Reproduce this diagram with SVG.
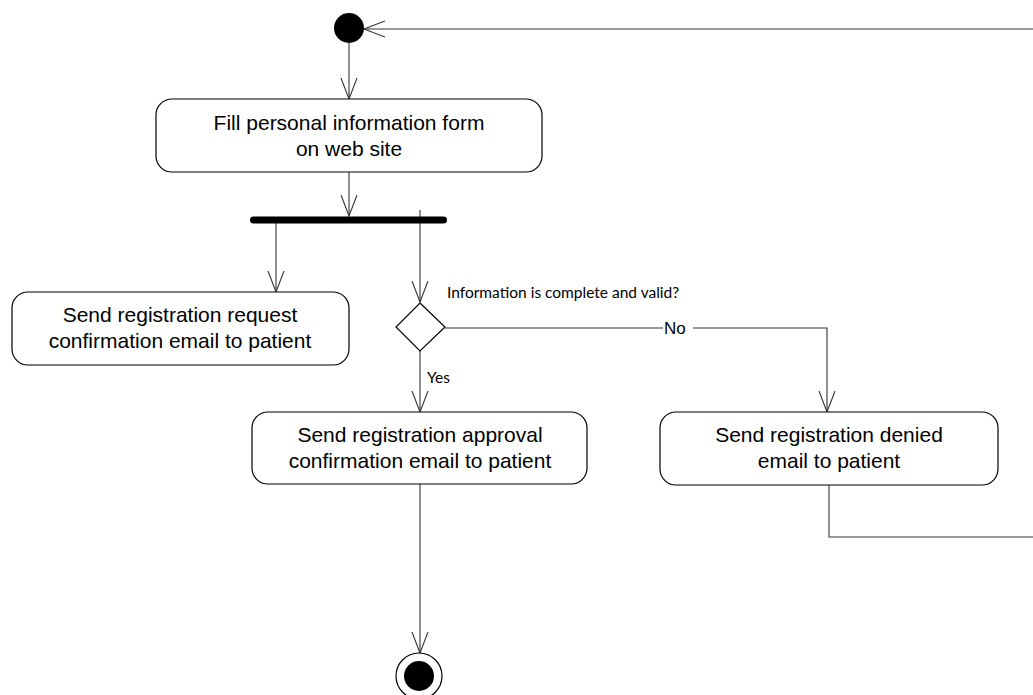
<svg xmlns="http://www.w3.org/2000/svg" width="1033" height="695" viewBox="0 0 1033 695">
<style>
.box{fill:#fff;stroke:#000;stroke-width:1.2}
.lbl{font-family:"Liberation Sans",Arial,sans-serif;font-size:21px;fill:#000;text-anchor:middle}
.cond{font-family:Lato,"Liberation Sans",sans-serif;font-size:15.5px;fill:#000}
.no{font-family:"Liberation Sans",Arial,sans-serif;font-size:17px;fill:#000}
.conn{fill:none;stroke:#333;stroke-width:1.1}
</style>
<defs>
<marker id="arr" markerUnits="userSpaceOnUse" markerWidth="24" markerHeight="20" refX="21" refY="9" orient="auto">
<path d="M0,1 L21,9 L0,17" fill="none" stroke="#333" stroke-width="1.1"/>
</marker>
</defs>
<rect width="1033" height="695" fill="#fff"/>
<g id="connectors">
<line class="conn" x1="349" y1="43" x2="349" y2="99" marker-end="url(#arr)"/>
<line class="conn" x1="349" y1="172" x2="349" y2="216" marker-end="url(#arr)"/>
<line class="conn" x1="276" y1="223" x2="276" y2="292" marker-end="url(#arr)"/>
<line class="conn" x1="420" y1="210" x2="420" y2="302" marker-end="url(#arr)"/>
<line class="conn" x1="420" y1="351" x2="420" y2="412" marker-end="url(#arr)"/>
<polyline class="conn" points="445,328 663,328"/>
<polyline class="conn" points="693,328 827,328 827,412" marker-end="url(#arr)"/>
<line class="conn" x1="420" y1="484" x2="420" y2="653" marker-end="url(#arr)"/>
<polyline class="conn" points="829,485 829,537 1033,537"/>
<line class="conn" x1="1033" y1="29" x2="364" y2="29" marker-end="url(#arr)"/>
<text class="cond" x="447" y="298">Information is complete and valid?</text>
<text class="no" x="664" y="334">No</text>
<text class="cond" x="427" y="383">Yes</text>
</g>
<g id="start"><circle cx="349" cy="28" r="15" fill="#000"/></g>
<g id="fill-form">
<rect class="box" x="156" y="99" width="386" height="73" rx="16"/>
<text class="lbl" x="349" y="130">Fill personal information form</text>
<text class="lbl" x="349" y="156">on web site</text>
</g>
<g id="fork"><rect x="250" y="216.5" width="197" height="7" rx="3.5" fill="#000"/></g>
<g id="request-email">
<rect class="box" x="12" y="292" width="337" height="73" rx="16"/>
<text class="lbl" x="180" y="322">Send registration request</text>
<text class="lbl" x="180" y="348">confirmation email to patient</text>
</g>
<g id="decision"><polygon points="420,303 445,327 420,351 396,327" fill="#fff" stroke="#000" stroke-width="1.2"/></g>
<g id="approval-email">
<rect class="box" x="252" y="412" width="335" height="72" rx="16"/>
<text class="lbl" x="420" y="442">Send registration approval</text>
<text class="lbl" x="420" y="468">confirmation email to patient</text>
</g>
<g id="denied-email">
<rect class="box" x="660" y="412" width="338" height="73" rx="16"/>
<text class="lbl" x="829" y="442">Send registration denied</text>
<text class="lbl" x="829" y="468">email to patient</text>
</g>
<g id="end">
<circle cx="419" cy="676" r="23" fill="#fff" stroke="#000" stroke-width="1.2"/>
<circle cx="419" cy="676" r="15" fill="#000"/>
</g>
</svg>
